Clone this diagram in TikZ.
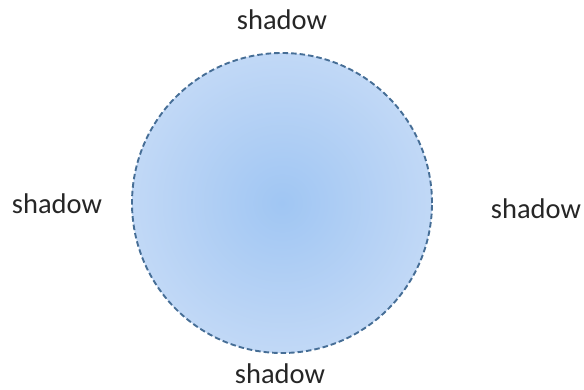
\documentclass[tikz,border=0pt]{standalone}
\usepackage{fontspec}
\setmainfont{Carlito}
\definecolor{ballin}{RGB}{160,198,243}
\definecolor{ballmid}{RGB}{184,211,245}
\definecolor{ballout}{RGB}{206,224,248}
\definecolor{ballline}{RGB}{70,110,150}
\pgfdeclareradialshading{ballshade}{\pgfpoint{0bp}{0bp}}{color(0bp)=(ballin); color(18bp)=(ballmid); color(35bp)=(ballout); color(75bp)=(ballout)}
\begin{document}
\begin{tikzpicture}[x=1pt,y=1pt,
  lbl/.style={anchor=base,inner sep=0pt,font=\fontsize{28.5}{34}\selectfont,text=black!85}]
\useasboundingbox (0,0) rectangle (584,389);
\node[circle,minimum size=300pt,inner sep=0pt,shading=ballshade,draw=ballline,line width=1.9pt,dash pattern=on 5.5pt off 3pt] (ball) at (282,186) {};
\node[lbl] (top) at (282,359) {shadow};
\node[lbl] (left) at (57,176) {shadow};
\node[lbl] (right) at (536,171) {shadow};
\node[lbl] (bottom) at (280,6) {shadow};
\end{tikzpicture}
\end{document}
